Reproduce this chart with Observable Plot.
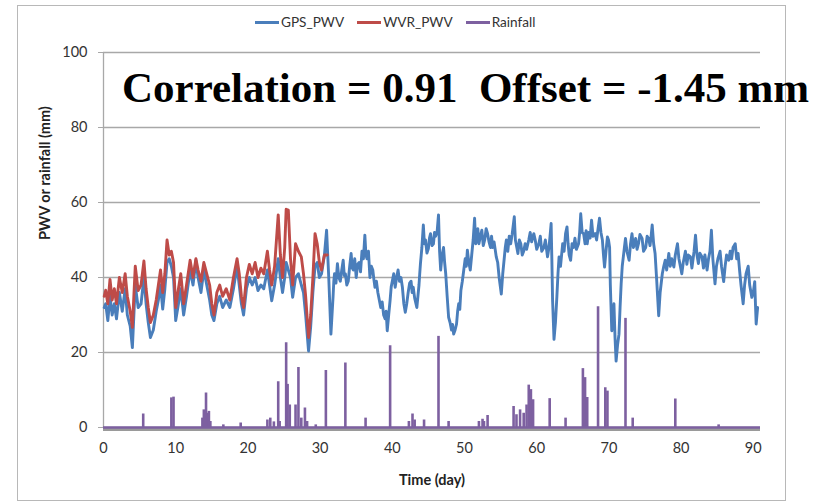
<!DOCTYPE html>
<html>
<head>
<meta charset="utf-8">
<script src="https://cdn.jsdelivr.net/npm/d3@7"></script>
<script src="https://cdn.jsdelivr.net/npm/@observablehq/plot@0.6"></script>
<style>
  html, body { margin: 0; padding: 0; background: #fff; }
  #wrap { position: relative; width: 813px; height: 502px; overflow: hidden; }
  #frame { position: absolute; left: 17px; top: 5px; width: 767px; height: 494px; border: 1px solid #b8b8b8; }
  #legend { position: absolute; left: 255px; top: 14px; display: flex; align-items: center; font-family: Lato, sans-serif; font-size: 13.6px; color: #333; }
  #legend .item { display: flex; align-items: center; margin-right: 13px; }
  #legend .sw { width: 24px; height: 3px; margin-right: 2px; }
  #title { position: absolute; left: 122px; top: 66px; font-family: "Liberation Serif", "Times New Roman", serif; font-weight: bold; font-size: 43px; line-height: 43px; white-space: pre; color: #000; }
  #chart { position: absolute; left: 0; top: 0; }
</style>
</head>
<body>
<div id="wrap">
  <div id="frame"></div>
  <div id="chart"></div>
  <div id="legend"></div>
  <div id="title">Correlation = 0.91  Offset = -1.45 mm</div>
</div>
<script>
const seriesNames = ["GPS_PWV", "WVR_PWV", "Rainfall"];
const seriesColors = ["#4a7ebb", "#be4b48", "#7d60a0"];
const xTicks = [0, 10, 20, 30, 40, 50, 60, 70, 80, 90];
const yTicks = [0, 20, 40, 60, 80, 100];

// GPS PWV (mm) : [day, value]
const gps = [
  [0.1,32],[0.3,33],[0.6,28.5],[0.9,35],[1.2,30],[1.5,33],[1.8,29],[2.2,36],[2.6,31],[3.0,37],
  [3.3,30],[3.7,27],[4.0,21.3],[4.4,38],[4.8,32],[5.2,33],[5.6,40],[5.9,33],[6.2,28],[6.5,24],
  [6.9,26],[7.3,31],[7.6,34],[7.9,38],[8.2,31.6],[8.5,37],[8.8,44],[9.1,45],[9.4,43],[9.7,40],
  [10.0,28.5],[10.3,32],[10.7,37],[11.1,30],[11.5,35],[12.0,42],[12.4,38],[12.8,44.6],[13.1,40],[13.5,36],
  [13.9,42],[14.3,38],[14.7,34],[15.0,30],[15.3,28.5],[15.7,33],[16.1,35],[16.5,32],[17.0,34],[17.5,32],
  [18.0,37],[18.5,43],[18.8,38],[19.1,33],[19.4,30],[19.8,37],[20.2,40],[20.6,38],[21.0,40],[21.4,36.5],
  [21.8,38],[22.2,37],[22.7,42],[23.0,38],[23.3,33.8],[23.7,38],[24.2,45],[24.5,40],[24.8,36],[25.1,40],
  [25.3,44],[25.6,42],[25.9,40],[26.2,34.7],[26.6,40],[27.0,41],[27.4,38],[27.7,36],[28.0,30],[28.4,20.4],
  [28.7,27],[29.0,36],[29.3,43],[29.6,44],[29.9,40],[30.2,41],[30.6,46],[30.9,52.6],[31.2,40],[31.5,24.9],
  [31.8,35],[31.9,39],[32.0,41],[32.2,38.5],[32.4,43.7],[32.6,40],[32.8,39],[33.0,42],[33.2,44.6],[33.35,40.5],
  [33.5,41],[33.7,38],[33.9,39],[34.1,43],[34.3,46.4],[34.45,42.5],[34.6,42],[34.8,45],[35.0,40],[35.2,43.5],
  [35.4,44],[35.6,41.5],[35.8,47],[36.0,45],[36.2,51.3],[36.35,46],[36.5,45],[36.7,47],[36.9,40],[37.1,43],
  [37.3,42],[37.45,39.5],[37.6,37.4],[37.8,39],[38.0,36],[38.2,34],[38.4,32],[38.6,33.5],[38.8,30],[39.0,29],
  [39.15,31],[39.3,25.8],[39.5,30],[39.7,34],[39.85,37.5],[40.0,39],[40.2,41],[40.4,37.4],[40.6,40],[40.8,42],
  [41.0,39],[41.2,40],[41.4,37.4],[41.6,33],[41.8,30.7],[42.0,33],[42.2,36],[42.4,38.5],[42.6,39],[42.75,36],
  [42.9,37.4],[43.1,34.5],[43.4,32],[43.55,35],[43.7,38],[43.8,41],[43.9,43.7],[44.1,48],[44.3,54],[44.45,49],
  [44.6,50],[44.8,46.5],[45.0,47.7],[45.15,50.5],[45.3,51.7],[45.5,48.5],[45.7,49],[45.85,52],[46.0,51],[46.2,52],
  [46.4,56.7],[46.55,47],[46.7,42],[46.9,46],[47.1,48],[47.25,44],[47.4,41],[47.6,35],[47.8,29.4],[48.0,28],
  [48.2,26],[48.35,27.5],[48.5,24.9],[48.7,26],[48.9,27.6],[49.05,31],[49.2,33],[49.35,31.5],[49.5,36.5],[49.7,39],
  [49.9,42],[50.1,45],[50.25,43],[50.4,47.3],[50.6,44],[50.8,42],[51.0,46],[51.2,50],[51.4,55.8],[51.55,49],
  [51.7,50],[51.85,53],[52.0,49],[52.2,51],[52.4,52.6],[52.6,48.5],[52.8,50],[53.0,53],[53.2,51.7],[53.4,49.5],
  [53.6,48],[53.75,51],[53.9,48],[54.1,49.5],[54.4,45.5],[54.6,44],[54.8,40],[55.1,35.6],[55.3,41],[55.5,45],
  [55.65,48],[55.8,50],[56.0,47],[56.2,51],[56.4,49],[56.6,51.5],[56.9,56.2],[57.05,50],[57.2,48.5],[57.4,46.4],
  [57.6,50],[57.8,49],[58.0,46],[58.2,47],[58.4,49],[58.6,47.5],[58.9,50],[59.1,52],[59.3,49.5],[59.6,51.7],
  [59.8,50],[60.0,47.5],[60.3,49],[60.5,51],[60.7,47],[61.0,48],[61.2,50],[61.5,45.5],[61.7,48],[61.85,51],
  [62.0,54.4],[62.1,45],[62.2,34],[62.4,23.5],[62.6,28],[62.8,35],[62.95,41],[63.1,45.5],[63.3,43],[63.6,49],
  [63.8,47],[64.0,51.7],[64.2,53.5],[64.35,49],[64.5,46],[64.7,44.6],[64.9,49],[65.1,48],[65.3,50.5],[65.5,47.5],
  [65.8,49],[65.95,52],[66.1,57],[66.3,52],[66.5,51.7],[66.7,49],[66.85,52.5],[67.0,49],[67.2,52],[67.4,50.5],
  [67.6,55.3],[67.8,51],[68.1,51.7],[68.3,50],[68.5,53],[68.7,55.8],[68.9,52],[69.1,50],[69.25,46],[69.4,42.8],
  [69.6,47],[69.8,50.8],[69.95,50],[70.1,48],[70.2,38],[70.4,25.8],[70.55,29],[70.7,33],[70.85,24],[71.0,17.7],
  [71.2,22],[71.4,24.9],[71.55,32],[71.7,38.3],[71.85,43],[72.0,45.5],[72.15,48],[72.3,50.4],[72.5,47],[72.8,44.6],
  [73.0,49],[73.2,51.7],[73.4,48],[73.7,50.4],[73.9,47.5],[74.1,49],[74.3,51.5],[74.6,50.4],[74.8,47],[75.1,48],
  [75.3,51],[75.5,50.4],[75.7,48.5],[75.85,51],[76.0,54],[76.2,49],[76.4,46.4],[76.6,40],[76.9,29.8],[77.1,36],
  [77.4,41],[77.6,43],[77.8,44.6],[78.0,42],[78.3,46.4],[78.5,43],[78.7,45],[79.0,42.8],[79.2,46],[79.5,49],
  [79.7,45],[79.9,43],[80.1,41],[80.3,44],[80.6,47],[80.8,43.5],[81.0,46],[81.3,45.5],[81.5,42.5],[81.8,47],
  [82.0,51.3],[82.2,46],[82.4,43.7],[82.6,46.5],[82.9,45.5],[83.1,42.5],[83.3,46],[83.6,42],[83.8,45],[84.0,47],
  [84.2,52.6],[84.4,45],[84.7,38.3],[84.9,43],[85.1,45],[85.4,47],[85.6,43],[85.9,38.9],[86.1,43],[86.3,46],
  [86.6,44.6],[86.8,47],[87.0,45],[87.2,48],[87.5,49],[87.7,45],[87.9,46.4],[88.1,42],[88.3,38],[88.6,33],
  [88.8,38],[89.0,41],[89.3,43],[89.5,38],[89.8,34.7],[90.0,36],[90.2,38.9],[90.3,33],[90.4,27.6],[90.6,32]
];

// WVR PWV (mm) : [day, value]
const wvr = [
  [0.1,35],[0.3,36.6],[0.6,33],[0.9,39.5],[1.2,34],[1.5,37],[1.8,33],[2.2,40],[2.6,36],[3.0,41],
  [3.3,35],[3.7,31],[4.0,26.7],[4.4,43],[4.8,36.5],[5.2,38],[5.6,44.4],[5.9,37],[6.2,32],[6.5,28],
  [6.9,30],[7.3,34],[7.6,38],[7.9,42],[8.2,36],[8.5,41],[8.8,50],[9.1,46],[9.4,47],[9.7,44],
  [10.0,32],[10.3,36],[10.7,41],[11.1,33],[11.5,38],[12.0,44.6],[12.4,40],[12.8,45],[13.1,42],[13.5,39],
  [13.9,44],[14.3,41],[14.7,38],[15.0,33],[15.3,30],[15.7,36],[16.1,38],[16.5,35],[17.0,37],[17.5,34],
  [18.0,40],[18.5,45],[18.8,41],[19.1,35],[19.4,32],[19.8,40],[20.2,43.5],[20.6,41],[21.0,44],[21.4,40],
  [21.8,42.5],[22.2,41],[22.7,47],[23.0,42],[23.3,38],[23.7,43],[24.2,56.7],[24.5,46],[24.8,40],[25.1,48],
  [25.3,58.2],[25.6,58],[25.9,45],[26.2,38],[26.6,49],[27.0,47],[27.4,45.5],[27.7,41],[28.0,35],[28.4,24],
  [28.7,30],[29.0,40],[29.3,51.7],[29.6,49],[29.9,44],[30.2,42],[30.6,46],[31.0,46]
];

// Rainfall (mm) : [day, value]
const rain = [
  [5.5,3.6],[9.4,7.9],[9.7,8.1],[13.7,2.5],[13.9,4.7],[14.0,4.2],[14.2,9.2],[14.4,3.8],[14.6,4.3],[14.8,1.6],
  [16.6,0.7],[19.0,1.2],[22.7,2.0],[23.1,2.5],[23.6,1.5],[24.2,12.2],[24.4,1.6],[25.3,22.6],[25.5,11.5],[25.8,6],
  [26.6,6],[27.0,16],[27.4,2.5],[27.9,5.2],[28.2,1.6],[29.4,0.7],[30.8,15.2],[33.5,17.2],[36.3,2.5],[39.7,21.8],
  [42.3,1.6],[42.8,3.6],[43.1,2.0],[44.4,2.0],[46.4,24.3],[47.8,1.6],[52.0,1.6],[52.5,2.2],[52.7,1.6],[53.2,3.2],
  [56.8,5.6],[57.2,3.4],[57.7,4.7],[58.2,3.8],[58.6,6],[58.9,11.3],[59.2,10.1],[59.5,7.4],[61.8,7.7],[64.0,2.5],
  [66.4,15.7],[66.7,13.3],[67.0,8],[68.5,32.2],[69.5,10.6],[69.8,9.7],[72.3,29.1],[73.3,2.5],[79.2,7.6],[85.2,0.7]
];

const chart = Plot.plot({
  width: 813,
  height: 502,
  marginTop: 52,
  marginBottom: 75,
  marginLeft: 103,
  marginRight: 53,
  x: { domain: [0, 91] },
  y: { domain: [0, 100] },
  style: { fontFamily: "Lato, sans-serif", fontSize: "14.5px", color: "#333", background: "transparent" },
  marks: [
    Plot.gridY(yTicks, { stroke: "#a8a8a8", strokeOpacity: 1, strokeWidth: 1.3 }),
    Plot.axisY(yTicks, { tickSize: 5, tickPadding: 11, label: null, stroke: "#a8a8a8", fill: "#333" }),
    Plot.axisX(xTicks, { tickSize: 0, tickPadding: 15, label: null, fill: "#333" }),
    Plot.ruleX([0], { stroke: "#a8a8a8", strokeWidth: 1.3 }),
    Plot.ruleY([0], { stroke: "#9a9a9a", strokeWidth: 3, dy: 2 }),
    Plot.line(gps, { x: d => d[0], y: d => d[1], stroke: seriesColors[0], strokeWidth: 2.9, strokeLinejoin: "round" }),
    Plot.line(wvr, { x: d => d[0], y: d => d[1], stroke: seriesColors[1], strokeWidth: 2.9, strokeLinejoin: "round" }),
    Plot.ruleX(rain, { x: d => d[0], y1: 0, y2: d => d[1], stroke: seriesColors[2], strokeWidth: 2.6 }),
    Plot.ruleY([0], { stroke: seriesColors[2], strokeWidth: 2.6 }),
    Plot.text(["Time (day)"], { frameAnchor: "bottom", dy: 57, fontWeight: "bold", fontSize: 14.5, fill: "#222" }),
    Plot.text(["PWV or rainfall (mm)"], { frameAnchor: "left", dx: -58, rotate: -90, fontWeight: "bold", fontSize: 14.5, fill: "#222" })
  ]
});
document.getElementById("chart").appendChild(chart);

const legend = document.getElementById("legend");
seriesNames.forEach((name, i) => {
  const item = document.createElement("div");
  item.className = "item";
  const sw = document.createElement("div");
  sw.className = "sw";
  sw.style.background = seriesColors[i];
  const label = document.createElement("span");
  label.textContent = name;
  item.appendChild(sw);
  item.appendChild(label);
  legend.appendChild(item);
});
</script>
</body>
</html>
